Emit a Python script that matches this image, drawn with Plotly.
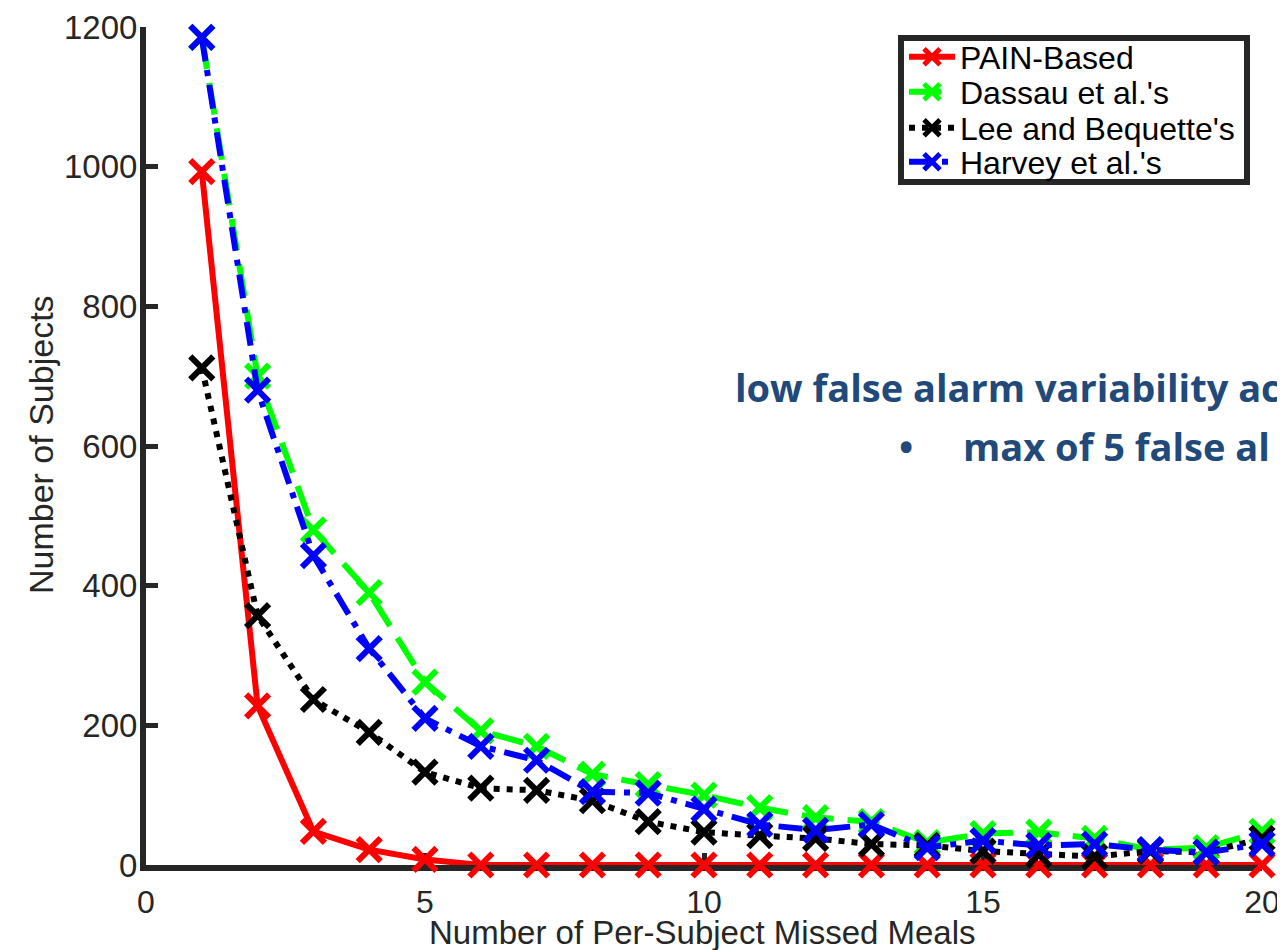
import plotly.graph_objects as go

missed_meals = list(range(1, 21))
pain_based = [993, 228, 48, 22, 8, 0, 0, 0, 0, 0, 0, 0, 0, 0, 0, 0, 0, 0, 0, 0]
dassau = [1185, 700, 480, 390, 262, 192, 170, 130, 115, 100, 82, 68, 62, 32, 45, 47, 38, 22, 25, 48]
lee_bequette = [712, 357, 237, 190, 133, 110, 107, 92, 62, 47, 42, 38, 30, 28, 20, 15, 12, 20, 18, 38]
harvey = [1185, 680, 443, 310, 210, 170, 150, 105, 103, 80, 58, 50, 58, 25, 35, 28, 30, 22, 18, 30]

series_names = ["PAIN-Based", "Dassau et al.'s", "Lee and Bequette's", "Harvey et al.'s"]
series_values = [pain_based, dassau, lee_bequette, harvey]
series_colors = ["#FF0000", "#00FF00", "#000000", "#0000FF"]
series_dash = ["solid", "32px,14px", "6px,7px", "24px,9px,6px,9px"]

x_ticks = [0, 5, 10, 15, 20]
y_ticks = [0, 200, 400, 600, 800, 1000, 1200]

FONT = "Liberation Sans, Arial, Helvetica, sans-serif"
AXC = "#262626"

# page offset (default body margin) compensated so the figure lands at window pixels
OFF = 8
W, H = 1285, 950
ML, MR, MT, MB = 146 - OFF, 23 + OFF, 27 - OFF, 85 + OFF
PW, PH = W - ML - MR, H - MT - MB


def px_x(p):
    return (p - OFF - ML) / PW


def px_y(p):
    return (H - MB - (p - OFF)) / PH


legend_names = ["legend", "legend2", "legend3", "legend4"]
legend_rows_px = [57, 92, 128, 162]

fig = go.Figure()
for name, vals, col, dash, lg in zip(series_names, series_values, series_colors, series_dash, legend_names):
    fig.add_trace(go.Scatter(
        x=missed_meals, y=vals, name=name, mode="lines+markers",
        line=dict(color=col, width=6, dash=dash),
        marker=dict(symbol="x-thin", size=23, color=col, line=dict(color=col, width=6)),
        cliponaxis=False, legend=lg,
    ))

legend_layout = {}
for lg, row in zip(legend_names, legend_rows_px):
    legend_layout[lg] = dict(
        x=px_x(904), y=px_y(row), xanchor="left", yanchor="middle",
        bgcolor="rgba(0,0,0,0)", borderwidth=0,
        font=dict(family=FONT, size=32, color="#000000"),
        itemwidth=46,
    )

fig.update_layout(
    width=W, height=H,
    margin=dict(l=ML, r=MR, t=MT, b=MB),
    paper_bgcolor="white", plot_bgcolor="white",
    font=dict(family=FONT, size=32, color=AXC),
    showlegend=True,
    **legend_layout,
)

# legend frame
fig.add_shape(type="rect", xref="paper", yref="paper",
              x0=px_x(901), x1=px_x(1247), y0=px_y(182), y1=px_y(38),
              line=dict(color=AXC, width=6), fillcolor="white", layer="above")

fig.update_xaxes(
    range=[0, 20], tickvals=x_ticks, ticktext=[str(v) for v in x_ticks],
    showgrid=False, zeroline=False, showline=True, linecolor=AXC, linewidth=6,
    ticks="inside", ticklen=12, tickwidth=5, tickcolor=AXC, layer="below traces",
    tickfont=dict(size=32, color=AXC), automargin=False, ticklabelstandoff=4,
)
fig.update_yaxes(
    range=[0, 1200], tickvals=y_ticks, ticktext=[str(v) for v in y_ticks],
    showgrid=False, zeroline=False, showline=True, linecolor=AXC, linewidth=6,
    ticks="inside", ticklen=12, tickwidth=5, tickcolor=AXC, layer="below traces",
    tickfont=dict(size=33, color=AXC), automargin=False, ticklabelstandoff=-4,
)

# axis titles
fig.add_annotation(xref="paper", yref="paper", x=px_x(702), y=px_y(932),
                   xanchor="center", yanchor="middle", showarrow=False,
                   text="Number of Per-Subject Missed Meals",
                   font=dict(family=FONT, size=33, color=AXC))
fig.add_annotation(xref="paper", yref="paper", x=px_x(41), y=px_y(445),
                   xanchor="center", yanchor="middle", showarrow=False, textangle=-90,
                   text="Number of Subjects",
                   font=dict(family=FONT, size=34, color=AXC))

ANN = "#21497A"
AFONT = "Open Sans, Lato, sans-serif"
fig.add_annotation(xref="paper", yref="paper", x=px_x(733), y=px_y(387), xanchor="left", yanchor="middle",
                   text="<b>low false alarm variability ac</b>", showarrow=False,
                   font=dict(family=AFONT, size=38, color=ANN))
fig.add_annotation(xref="paper", yref="paper", x=px_x(897), y=px_y(446), xanchor="left", yanchor="middle",
                   text="<b>•</b>", showarrow=False,
                   font=dict(family=AFONT, size=38, color=ANN))
fig.add_annotation(xref="paper", yref="paper", x=px_x(961), y=px_y(446), xanchor="left", yanchor="middle",
                   text="<b>max of 5 false al</b>", showarrow=False,
                   font=dict(family=AFONT, size=38, color=ANN))

fig.write_html("out.html")
